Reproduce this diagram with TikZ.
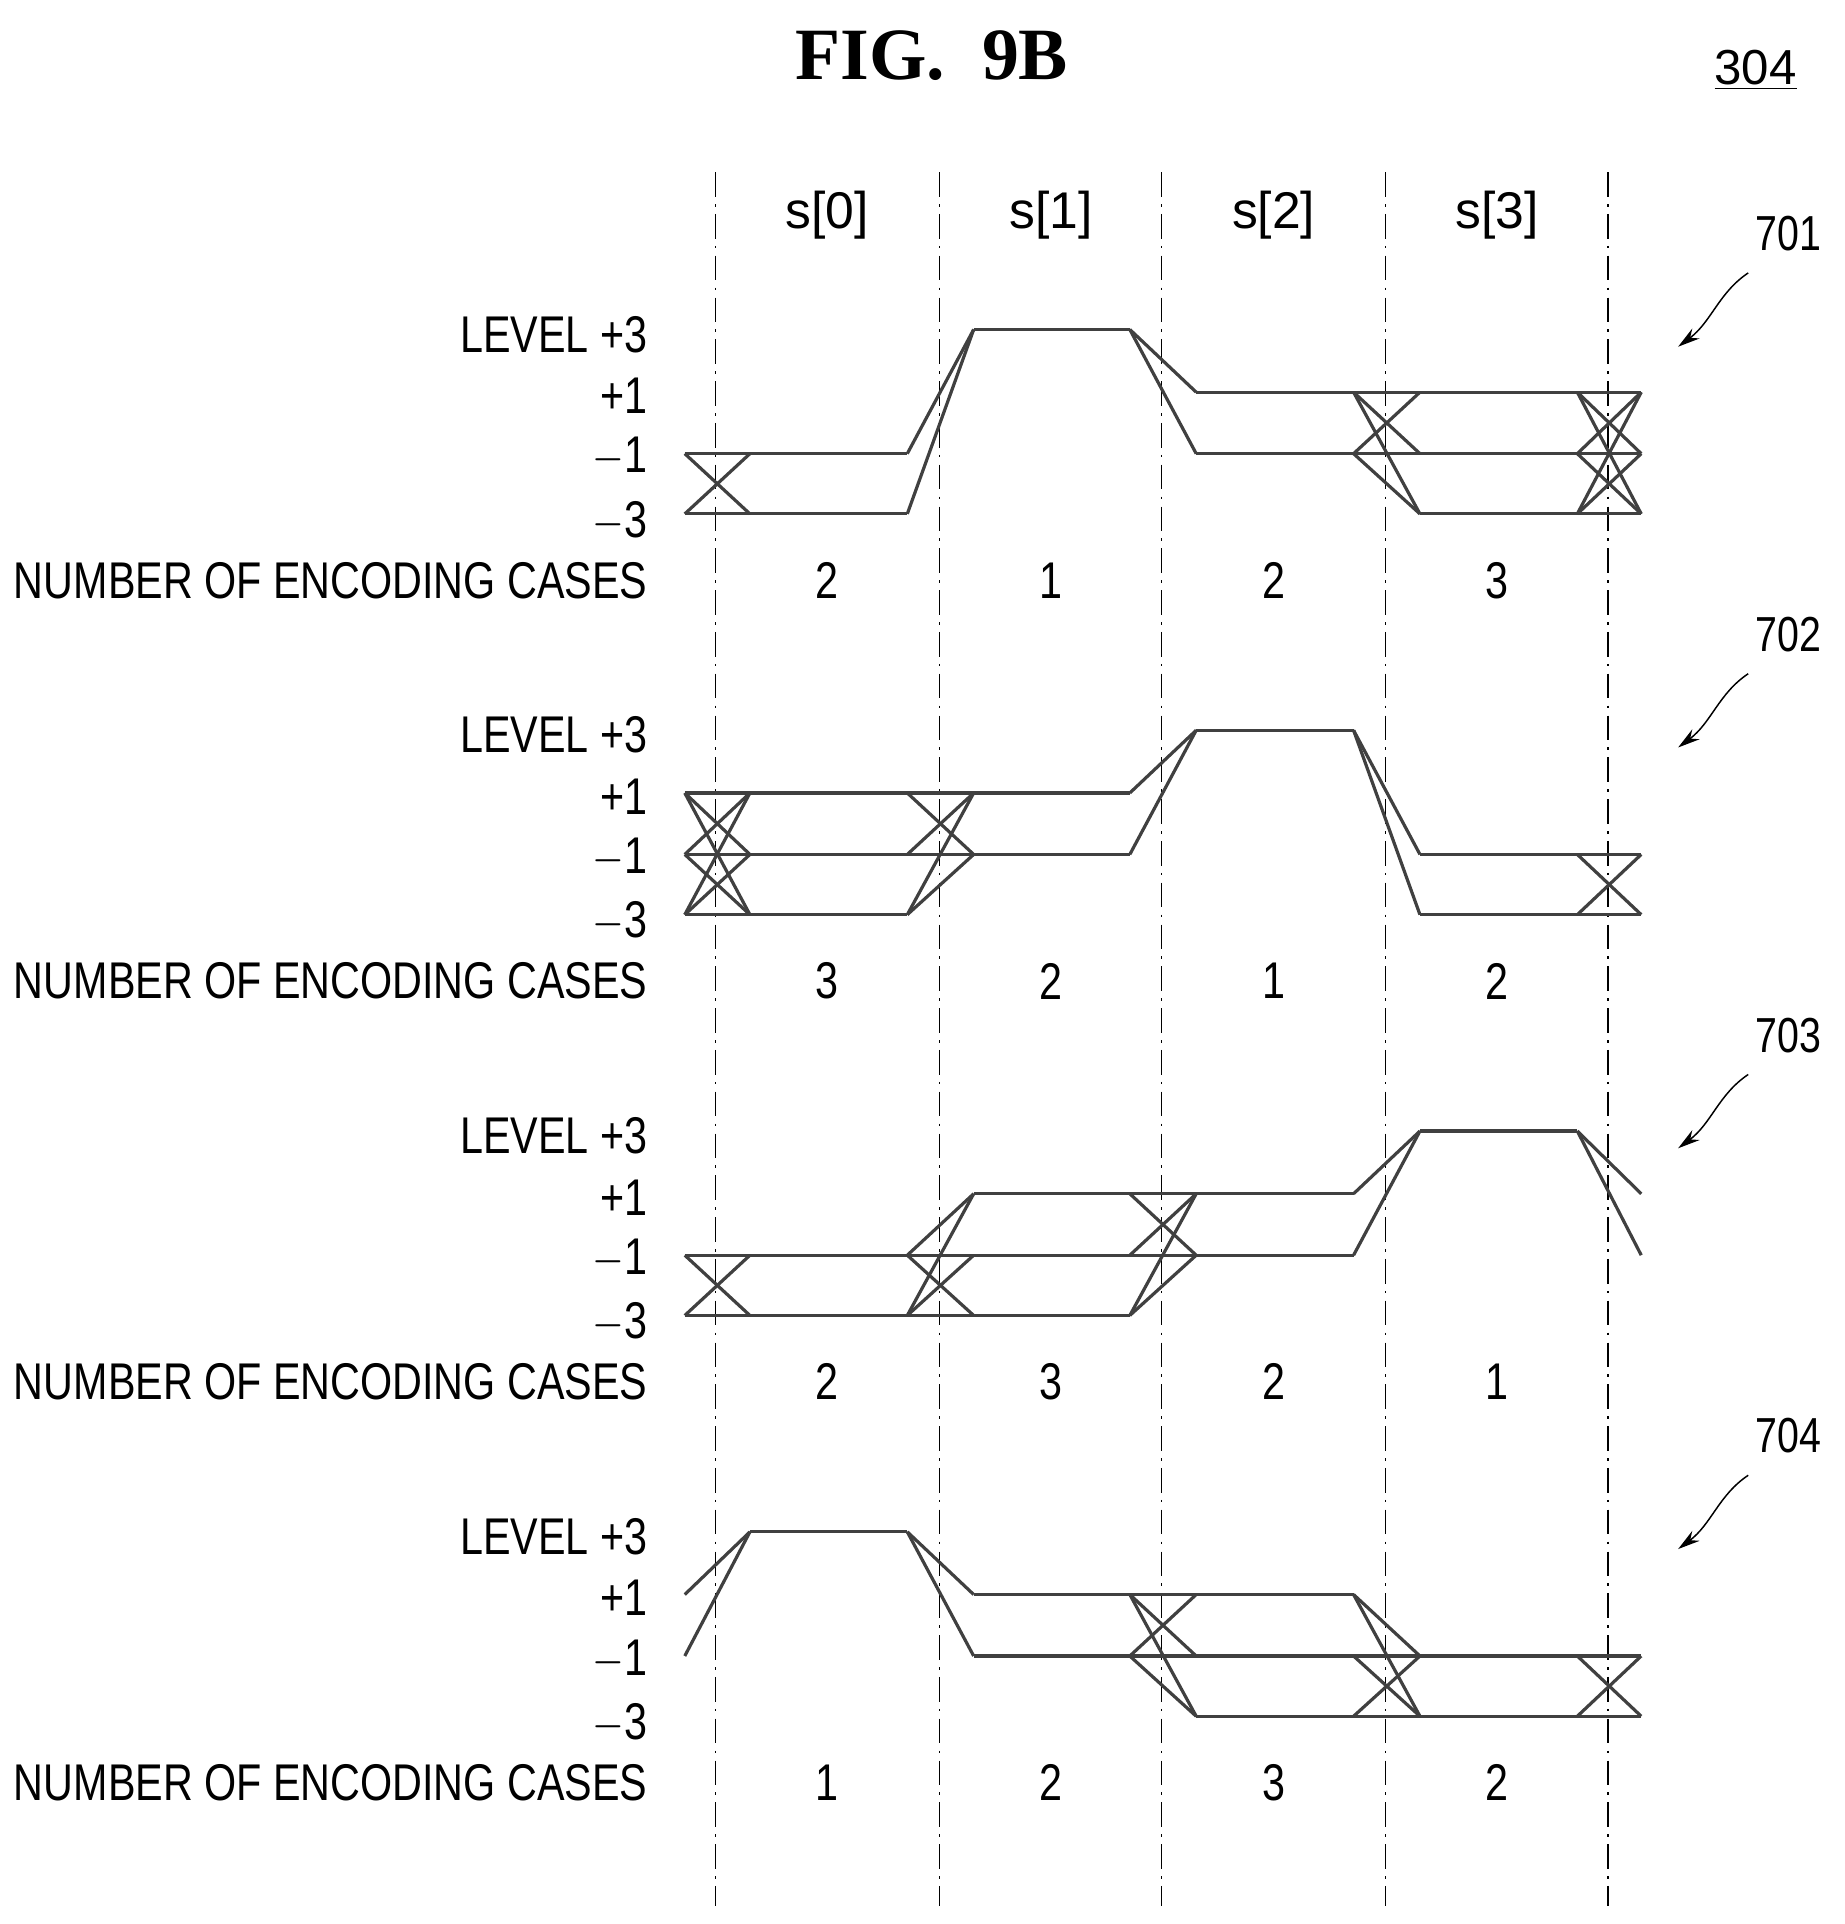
\documentclass[tikz,border=0pt]{standalone}
\usepackage{fontspec}
\setmainfont{Liberation Sans}
\newfontfamily\serifb{Liberation Serif}
\usetikzlibrary{arrows.meta}
\newcommand\nt[1]{\scalebox{0.8}[1]{#1}}
\newcommand\mymesh[4]{\foreach \a in {#2}{\foreach \b in {#4}{\draw[tr] (#1,\a) -- (#3,\b);}}}
\begin{document}
\begin{tikzpicture}[x=0.5pt,y=-0.5pt,
  tr/.style={line width=1.3pt,black!75},
  dl/.style={densely dashed,dash pattern=on 10pt off 3pt on 1pt off 3pt,line width=0.5pt},
  lab/.style={font=\fontsize{21}{24}\selectfont,anchor=east,inner sep=0pt},
  num/.style={font=\fontsize{21}{24}\selectfont,inner sep=0pt},
  ref/.style={font=\fontsize{20}{24}\selectfont,inner sep=0pt},
  ar/.style={-{Stealth[length=9pt,width=5pt]},line width=0.6pt}]
\useasboundingbox (0,0) rectangle (1500,1565);
\node[font=\serifb\bfseries\fontsize{30}{34}\selectfont] (title) at (758,45) {FIG.\ \ 9B};
\node[ref] (r304) at (1428,57) {\underline{304}};
\foreach \x in {582,764,945,1127,1308}{\draw[dl] (\x,140) -- (\x,1550);}
\node[num] (s0) at (673,175) {s[0]};
\node[num] (s1) at (855,175) {s[1]};
\node[num] (s2) at (1036,175) {s[2]};
\node[num] (s3) at (1218,175) {s[3]};
\def\Lt{268}\def\Lo{319}\def\Lm{369}\def\Lb{418}
\foreach \p/\rf/\na/\nb/\nc/\nd in {0/701/2/1/2/3,1/702/3/2/1/2,2/703/2/3/2/1,3/704/1/2/3/2}{
\begin{scope}[yshift=-163pt*\p]
\node[lab] at (527,272) {\nt{LEVEL +3}};
\node[lab] at (527,322) {\nt{+1}};
\node[lab] at (527,372) {\nt{$-$1}};
\node[lab] at (527,424) {\nt{$-$3}};
\node[lab] at (527,472) {\nt{NUMBER OF ENCODING CASES}};
\node[num] at (673,472) {\nt{\na}};
\node[num] at (855,472) {\nt{\nb}};
\node[num] at (1036,472) {\nt{\nc}};
\node[num] at (1218,472) {\nt{\nd}};
\node[ref] at (1455,190) {\nt{\rf}};
\draw[ar] (1422,222) .. controls (1398,238) and (1392,262) .. (1365,282);
\end{scope}}
% panel 1
\begin{scope}
\mymesh{557}{\Lm,\Lb}{610}{\Lm,\Lb}
\mymesh{610}{\Lm,\Lb}{738}{}
\foreach \l in {\Lm,\Lb}{\draw[tr] (610,\l)--(738,\l);}
\mymesh{738}{\Lm,\Lb}{792}{\Lt}
\draw[tr] (792,\Lt)--(919,\Lt);
\mymesh{919}{\Lt}{973}{\Lo,\Lm}
\foreach \l in {\Lo,\Lm}{\draw[tr] (973,\l)--(1101,\l);}
\mymesh{1101}{\Lo,\Lm}{1155}{\Lo,\Lm,\Lb}
\foreach \l in {\Lo,\Lm,\Lb}{\draw[tr] (1155,\l)--(1283,\l);}
\mymesh{1283}{\Lo,\Lm,\Lb}{1335}{\Lo,\Lm,\Lb}
\end{scope}
% panel 2
\begin{scope}[yshift=-163pt]
\mymesh{557}{\Lo,\Lm,\Lb}{610}{\Lo,\Lm,\Lb}
\foreach \l in {\Lo,\Lm,\Lb}{\draw[tr] (610,\l)--(738,\l);}
\mymesh{738}{\Lo,\Lm,\Lb}{792}{\Lo,\Lm}
\foreach \l in {\Lo,\Lm}{\draw[tr] (792,\l)--(919,\l);}
\mymesh{919}{\Lo,\Lm}{973}{\Lt}
\draw[tr] (973,\Lt)--(1101,\Lt);
\mymesh{1101}{\Lt}{1155}{\Lm,\Lb}
\foreach \l in {\Lm,\Lb}{\draw[tr] (1155,\l)--(1283,\l);}
\mymesh{1283}{\Lm,\Lb}{1335}{\Lm,\Lb}
\end{scope}
% panel 3
\begin{scope}[yshift=-326pt]
\mymesh{557}{\Lm,\Lb}{610}{\Lm,\Lb}
\foreach \l in {\Lm,\Lb}{\draw[tr] (610,\l)--(738,\l);}
\mymesh{738}{\Lm,\Lb}{792}{\Lo,\Lm,\Lb}
\foreach \l in {\Lo,\Lm,\Lb}{\draw[tr] (792,\l)--(919,\l);}
\mymesh{919}{\Lo,\Lm,\Lb}{973}{\Lo,\Lm}
\foreach \l in {\Lo,\Lm}{\draw[tr] (973,\l)--(1101,\l);}
\mymesh{1101}{\Lo,\Lm}{1155}{\Lt}
\draw[tr] (1155,\Lt)--(1283,\Lt);
\mymesh{1283}{\Lt}{1335}{\Lo,\Lm}
\end{scope}
% panel 4
\begin{scope}[yshift=-489pt]
\mymesh{557}{\Lo,\Lm}{610}{\Lt}
\draw[tr] (610,\Lt)--(738,\Lt);
\mymesh{738}{\Lt}{792}{\Lo,\Lm}
\foreach \l in {\Lo,\Lm}{\draw[tr] (792,\l)--(919,\l);}
\mymesh{919}{\Lo,\Lm}{973}{\Lo,\Lm,\Lb}
\foreach \l in {\Lo,\Lm,\Lb}{\draw[tr] (973,\l)--(1101,\l);}
\mymesh{1101}{\Lo,\Lm,\Lb}{1155}{\Lm,\Lb}
\foreach \l in {\Lm,\Lb}{\draw[tr] (1155,\l)--(1283,\l);}
\mymesh{1283}{\Lm,\Lb}{1335}{\Lm,\Lb}
\end{scope}
\end{tikzpicture}
\end{document}
